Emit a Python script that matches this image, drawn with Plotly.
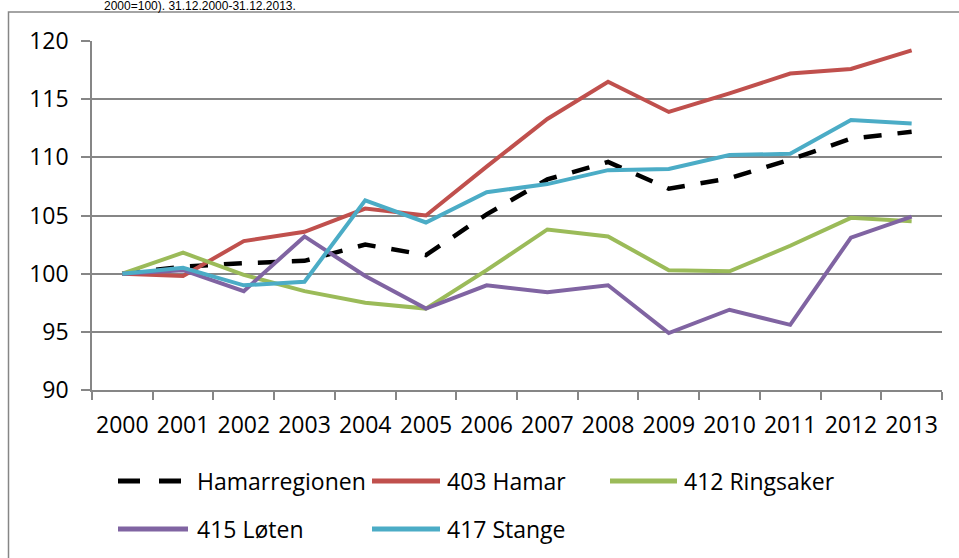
import plotly.graph_objects as go

years = [str(y) for y in range(2000, 2014)]

hamarregionen = [100, 100.6, 100.9, 101.1, 102.5, 101.6, 105.1, 108.1, 109.6, 107.3, 108.2, 109.8, 111.6, 112.2]
hamar =         [100, 99.8, 102.8, 103.6, 105.6, 105.0, 109.2, 113.3, 116.5, 113.9, 115.5, 117.2, 117.6, 119.2]
ringsaker =     [100, 101.8, 99.9, 98.5, 97.5, 97.0, 100.3, 103.8, 103.2, 100.3, 100.2, 102.4, 104.8, 104.5]
loten =         [100, 100.3, 98.5, 103.2, 99.8, 97.0, 99.0, 98.4, 99.0, 94.9, 96.9, 95.6, 103.1, 104.9]
stange =        [100, 100.5, 99.0, 99.3, 106.3, 104.4, 107.0, 107.7, 108.9, 109.0, 110.2, 110.3, 113.2, 112.9]

series_names = ["Hamarregionen", "403 Hamar", "412 Ringsaker", "415 Løten", "417 Stange"]
series_values = [hamarregionen, hamar, ringsaker, loten, stange]
series_colors = ["#000000", "#C0504D", "#9BBB59", "#8064A2", "#4BACC6"]
series_dash = ["18px,16px", "solid", "solid", "solid", "solid"]

y_ticks = [90, 95, 100, 105, 110, 115, 120]
title_text = "2000=100). 31.12.2000-31.12.2013."

FONT = "Open Sans"
FS = 23
GRID = "#868686"

fig = go.Figure()
for name, vals, col, dash in zip(series_names, series_values, series_colors, series_dash):
    fig.add_trace(go.Scatter(
        x=years, y=vals, name=name, mode="lines",
        line=dict(color=col, width=4.5 if name == "Hamarregionen" else 4, dash=dash),
        showlegend=False, hoverinfo="skip",
    ))

W, H = 959, 558
L, R, T, B = 92, 942, 41, 390
pw, ph = R - L, B - T

def px(x):
    return (x - L) / pw

def py(y):
    return (B - y) / ph

shapes = []
annotations = []

# outer chart border (extends beyond the picture on right/bottom)
shapes.append(dict(type="rect", xref="paper", yref="paper",
                   x0=px(8.5), x1=px(1100), y0=py(700), y1=py(12),
                   line=dict(color=GRID, width=1.5), fillcolor="rgba(0,0,0,0)", layer="above"))

# manual legend
legend_items = [
    (0, 118, 182, 195, 481),
    (1, 372, 440, 445, 481),
    (2, 610, 677, 682, 481),
    (3, 118, 188, 195, 529),
    (4, 372, 440, 445, 529),
]
for idx, x0, x1, xt, yc in legend_items:
    dash = "22px,19px" if idx == 0 else "solid"
    shapes.append(dict(type="line", xref="paper", yref="paper",
                       x0=px(x0), x1=px(x1), y0=py(yc), y1=py(yc),
                       line=dict(color=series_colors[idx], width=5, dash=dash)))
    annotations.append(dict(xref="paper", yref="paper", x=px(xt), y=py(yc),
                            xanchor="left", yanchor="middle", showarrow=False,
                            text=series_names[idx],
                            font=dict(family=FONT, size=FS, color="#000000")))

annotations.append(dict(xref="paper", yref="paper", x=px(102), y=py(5.5),
                        xanchor="left", yanchor="middle", showarrow=False,
                        text=title_text,
                        font=dict(family="Liberation Sans", size=12, color="#000000")))

fig.update_layout(
    width=W, height=H,
    margin=dict(l=L, r=W - R, t=T, b=H - B, pad=0),
    paper_bgcolor="white", plot_bgcolor="white",
    font=dict(family=FONT, size=FS, color="#000000"),
    shapes=shapes, annotations=annotations,
    showlegend=False, hovermode=False,
)
fig.update_xaxes(
    type="category", categoryorder="array", categoryarray=years,
    range=[-0.5, len(years) - 0.5],
    tickson="boundaries", ticks="outside", ticklen=8, tickwidth=1.5, tickcolor=GRID,
    showline=True, linecolor=GRID, linewidth=1.5, showgrid=False,
    tickfont=dict(family=FONT, size=FS, color="#000000"), tickangle=0,
    ticklabelstandoff=14, zeroline=False,
)
fig.update_yaxes(
    range=[90, 120], tickvals=y_ticks, ticktext=[str(v) for v in y_ticks],
    ticks="outside", ticklen=9, tickwidth=1.5, tickcolor=GRID,
    showline=True, linecolor=GRID, linewidth=1.5,
    showgrid=True, gridcolor=GRID, gridwidth=1.5, zeroline=False,
    tickfont=dict(family=FONT, size=FS, color="#000000"),
    ticklabelstandoff=8,
)

fig.write_html("out.html", config={"displayModeBar": False},
               post_script="document.body.style.margin='0';")
